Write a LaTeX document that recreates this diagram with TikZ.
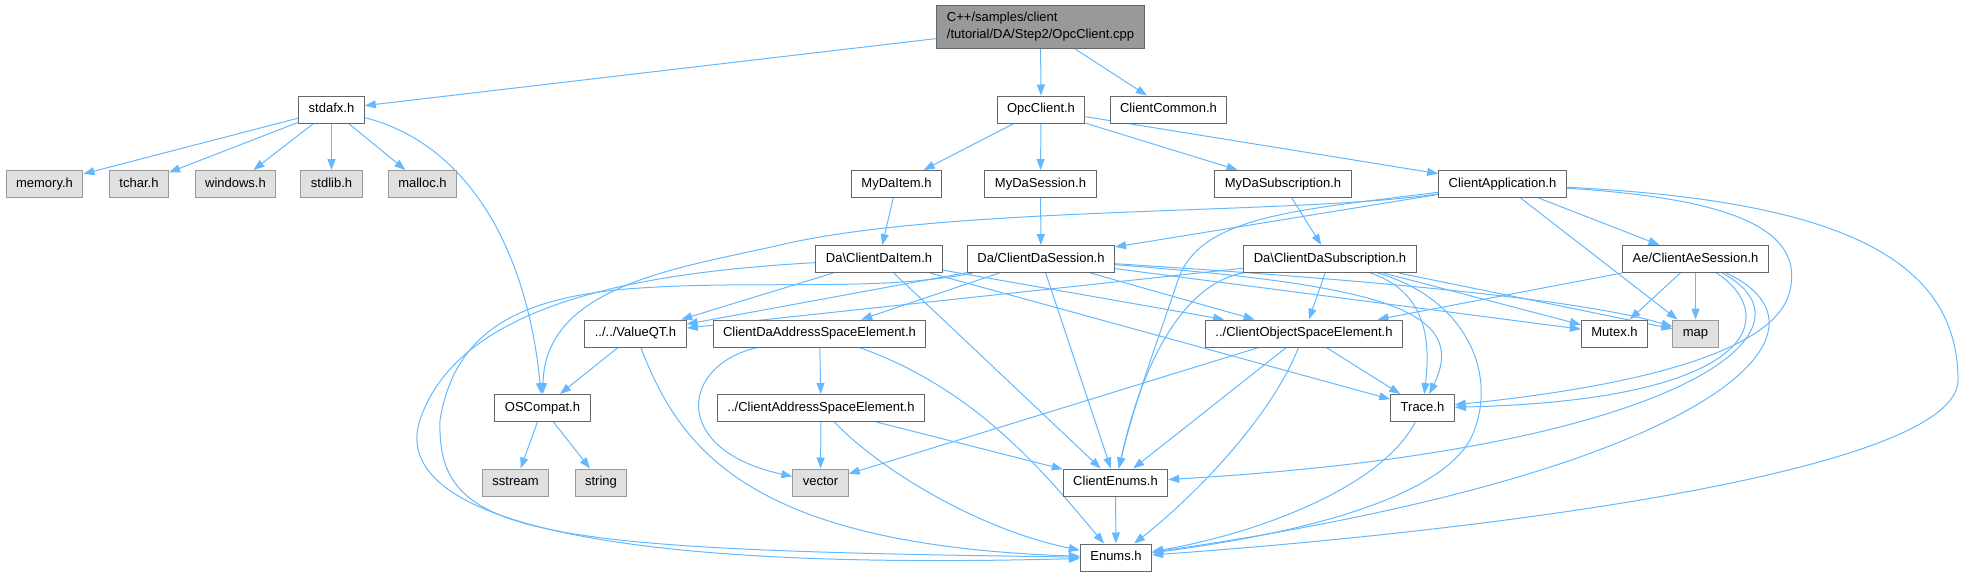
\documentclass[tikz,border=0pt]{standalone}
\usepackage{fontspec}
\setmainfont{Liberation Sans}
\usepackage{xcolor}
\usetikzlibrary{arrows.meta, positioning, backgrounds}
\definecolor{edgeblue}{HTML}{63B8FF}
\definecolor{boxline}{HTML}{666666}
\definecolor{extline}{HTML}{999999}
\definecolor{extfill}{HTML}{E0E0E0}
\definecolor{mainfill}{HTML}{999999}

\begin{document}
\begin{tikzpicture}[x=1pt, y=-1pt, font=\fontsize{13}{15}\selectfont,
  file/.style={draw=boxline, fill=white, line width=1pt, inner xsep=10pt, inner ysep=0pt,
               minimum height=27pt, text height=9.5pt, text depth=2.8pt},
  ext/.style={file, draw=extline, fill=extfill},
  mainfile/.style={draw=boxline, fill=mainfill, line width=1pt, inner xsep=10pt, align=left,
                   minimum height=43pt, font=\fontsize{13}{17}\selectfont},
  dep/.style={draw=edgeblue, line width=1pt, -{Triangle[length=11pt, width=8pt]}}]
  \useasboundingbox (0,0) rectangle (1964,576);

  % files
  \node[mainfile] (main) at (1040.5,26.5) {C++/samples/client\\/tutorial/DA/Step2/OpcClient.cpp};
  \node[file] (stdafx) at (331.5,109.5) {stdafx.h};
  \node[file] (opcclient) at (1041,109.5) {OpcClient.h};
  \node[file] (clientcommon) at (1168.5,109.5) {ClientCommon.h};
  \node[ext] (memory) at (44.5,184) {memory.h};
  \node[ext] (tchar) at (139,184) {tchar.h};
  \node[ext] (windows) at (235.5,184) {windows.h};
  \node[ext] (stdlib) at (331.5,184) {stdlib.h};
  \node[ext] (malloc) at (422.5,184) {malloc.h};
  \node[file] (mydaitem) at (896.5,184) {MyDaItem.h};
  \node[file] (mydasession) at (1040.5,184) {MyDaSession.h};
  \node[file] (mydasub) at (1283,184) {MyDaSubscription.h};
  \node[file] (clientapp) at (1502.5,184) {ClientApplication.h};
  \node[file] (daitem) at (879,259) {Da\textbackslash ClientDaItem.h};
  \node[file] (dasession) at (1041,259) {Da/ClientDaSession.h};
  \node[file] (dasub) at (1330,259) {Da\textbackslash ClientDaSubscription.h};
  \node[file] (aesession) at (1695.5,259) {Ae/ClientAeSession.h};
  \node[file] (valueqt) at (635.5,333.5) {../../ValueQT.h};
  \node[file] (daaddr) at (819.5,333.5) {ClientDaAddressSpaceElement.h};
  \node[file] (objspace) at (1304,333.5) {../ClientObjectSpaceElement.h};
  \node[file] (mutex) at (1614.5,333.5) {Mutex.h};
  \node[ext] (map) at (1695.5,333.5) {map};
  \node[file] (oscompat) at (542.5,408) {OSCompat.h};
  \node[file] (addrspace) at (821,408) {../ClientAddressSpaceElement.h};
  \node[file] (trace) at (1422.5,408) {Trace.h};
  \node[ext] (sstream) at (515.5,482.5) {sstream};
  \node[ext] (string) at (601,482.5) {string};
  \node[ext] (vector) at (820.5,482.5) {vector};
  \node[file] (clientenums) at (1115.5,482.5) {ClientEnums.h};
  \node[file] (enums) at (1116,557.5) {Enums.h};

  \begin{scope}[on background layer]
    % top levels
    \draw[dep] (main) -- (stdafx);
    \draw[dep] (main) -- (opcclient);
    \draw[dep] (main) -- (clientcommon);
    \foreach \t in {memory,tchar,windows,stdlib,malloc}
      \draw[dep] (stdafx) -- (\t);
    \draw[dep] (stdafx) .. controls (455,140) and (525,230) .. (oscompat);
    \foreach \t in {mydaitem,mydasession,mydasub,clientapp}
      \draw[dep] (opcclient) -- (\t);
    \draw[dep] (mydaitem) -- (daitem);
    \draw[dep] (mydasession) -- (dasession);
    \draw[dep] (mydasub) -- (dasub);

    % ClientApplication.h
    \draw[dep] (clientapp) -- (dasession);
    \draw[dep] (clientapp) -- (aesession);
    \draw[dep] (clientapp) -- (map);
    \draw[dep] (clientapp) .. controls (1300,215) and (950,205) .. (780,245)
                           .. controls (680,268) and (545,285) .. (oscompat);
    \draw[dep] (clientapp) .. controls (1300,210) and (1200,215) .. (1178,280)
                           .. controls (1158,340) and (1135,400) .. (clientenums);
    \draw[dep] (clientapp) .. controls (1720,198) and (1805,225) .. (1790,290)
                           .. controls (1777,355) and (1620,388) .. (trace);
    \draw[dep] (clientapp) .. controls (1820,200) and (1958,250) .. (1958,380)
                           .. controls (1958,470) and (1500,530) .. (enums);

    % Da\ClientDaItem.h
    \draw[dep] (daitem) -- (valueqt);
    \draw[dep] (daitem) -- (objspace);
    \draw[dep] (daitem) -- (trace);
    \draw[dep] (daitem) -- (clientenums);
    \draw[dep] (daitem) .. controls (650,272) and (460,300) .. (420,420)
                        .. controls (400,480) and (460,575) .. (enums);

    % Da/ClientDaSession.h
    \draw[dep] (dasession) -- (valueqt);
    \draw[dep] (dasession) -- (daaddr);
    \draw[dep] (dasession) -- (objspace);
    \draw[dep] (dasession) -- (clientenums);
    \draw[dep] (dasession) -- (mutex);
    \draw[dep] (dasession) .. controls (1450,285) and (1600,305) .. (map);
    \draw[dep] (dasession) .. controls (1380,285) and (1470,310) .. (trace);
    \draw[dep] (dasession) .. controls (880,292) and (760,280) .. (640,288)
                           .. controls (520,296) and (455,330) .. (440,420)
                           .. controls (437,535) and (520,550) .. (enums);

    % Da\ClientDaSubscription.h
    \draw[dep] (dasub) -- (valueqt);
    \draw[dep] (dasub) -- (objspace);
    \draw[dep] (dasub) -- (mutex);
    \draw[dep] (dasub) -- (map);
    \draw[dep] (dasub) .. controls (1420,290) and (1432,330) .. (trace);
    \draw[dep] (dasub) .. controls (1200,280) and (1150,330) .. (clientenums);
    \draw[dep] (dasub) .. controls (1470,300) and (1500,380) .. (1470,440)
                       .. controls (1430,510) and (1250,540) .. (enums);

    % Ae/ClientAeSession.h
    \draw[dep] (aesession) -- (objspace);
    \draw[dep] (aesession) -- (mutex);
    \draw[dep] (aesession) -- (map);
    \draw[dep] (aesession) .. controls (1780,315) and (1760,400) .. (trace);
    \draw[dep] (aesession) .. controls (1830,330) and (1680,450) .. (clientenums);
    \draw[dep] (aesession) .. controls (1850,330) and (1720,470) .. (enums);

    % lower files
    \draw[dep] (valueqt) -- (oscompat);
    \draw[dep] (valueqt) .. controls (680,450) and (750,545) .. (enums);
    \draw[dep] (daaddr) -- (addrspace);
    \draw[dep] (daaddr) .. controls (680,365) and (670,450) .. (vector);
    \draw[dep] (daaddr) .. controls (980,390) and (1050,480) .. (enums);
    \draw[dep] (addrspace) -- (vector);
    \draw[dep] (addrspace) -- (clientenums);
    \draw[dep] (addrspace) .. controls (880,470) and (980,530) .. (enums);
    \draw[dep] (objspace) -- (vector);
    \draw[dep] (objspace) -- (trace);
    \draw[dep] (objspace) -- (clientenums);
    \draw[dep] (objspace) .. controls (1270,420) and (1190,500) .. (enums);
    \draw[dep] (oscompat) -- (sstream);
    \draw[dep] (oscompat) -- (string);
    \draw[dep] (clientenums) -- (enums);
    \draw[dep] (trace) .. controls (1380,490) and (1250,535) .. (enums);
  \end{scope}
\end{tikzpicture}
\end{document}
